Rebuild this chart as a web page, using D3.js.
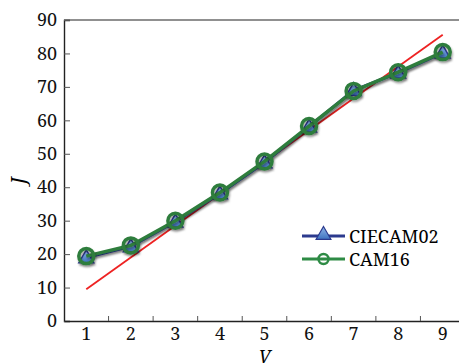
<!DOCTYPE html>
<html>
<head>
<meta charset="utf-8">
<script src="https://cdn.jsdelivr.net/npm/d3@7"></script>
<style>
  body { margin: 0; background: #fff; }
</style>
</head>
<body>
<div id="chart"></div>
<script>
// data
const categories = [1, 2, 3, 4, 5, 6, 7, 8, 9];
const ciecam02 = [19.0, 22.3, 29.7, 38.1, 47.4, 58.1, 69.0, 74.2, 80.2];
const cam16 = [19.4, 22.6, 30.0, 38.4, 47.7, 58.3, 68.8, 74.4, 80.4];
const fitLine = [9.5, 85.6]; // red linear fit at V=1 and V=9
const yTicks = [0, 10, 20, 30, 40, 50, 60, 70, 80, 90];

const FONT = "'Noto Serif', 'Liberation Serif', serif";

function main() {
  const width = 459, height = 363;
  const margin = {left: 64, top: 20, bottom: 42};
  const plotRight = 465;

  const svg = d3.select("#chart").append("svg")
    .attr("width", width)
    .attr("height", height);

  const defs = svg.append("defs");
  const shadow = defs.append("filter").attr("id", "shadow")
    .attr("x", "-50%").attr("y", "-50%").attr("width", "200%").attr("height", "200%");
  shadow.append("feDropShadow")
    .attr("dx", 1).attr("dy", 2).attr("stdDeviation", 1.3)
    .attr("flood-color", "#000").attr("flood-opacity", 0.35);
  const grad = defs.append("linearGradient").attr("id", "triFill")
    .attr("x1", 0).attr("y1", 0).attr("x2", 0).attr("y2", 1);
  grad.append("stop").attr("offset", "0%").attr("stop-color", "#8fb6e8");
  grad.append("stop").attr("offset", "100%").attr("stop-color", "#3f73c0");

  const x = d3.scaleBand()
    .domain(categories)
    .range([margin.left, plotRight]);
  const y = d3.scaleLinear()
    .domain([0, 90])
    .range([height - margin.bottom, margin.top]);
  const cx = d => x(d) + x.bandwidth() / 2;

  // frame: top line
  svg.append("line")
    .attr("x1", margin.left).attr("x2", plotRight)
    .attr("y1", y(90)).attr("y2", y(90))
    .attr("stroke", "#222").attr("stroke-width", 1.2);

  // y axis
  const yAxis = svg.append("g")
    .attr("transform", `translate(${margin.left},0)`)
    .call(d3.axisLeft(y).tickValues(yTicks).tickSize(-6).tickPadding(7));
  yAxis.select(".domain").attr("stroke", "#222").attr("stroke-width", 1.4);
  yAxis.selectAll(".tick line").attr("stroke", "#555");
  yAxis.selectAll("text").attr("font-size", 18).attr("fill", "#111")
    .style("font-family", FONT);

  // x axis: ticks between categories
  const xAxis = svg.append("g")
    .attr("transform", `translate(0,${y(0)})`)
    .call(d3.axisBottom(x).tickSize(0).tickPadding(6));
  xAxis.select(".domain").attr("stroke", "#222").attr("stroke-width", 1.4);
  xAxis.selectAll("text").attr("font-size", 18).attr("fill", "#111")
    .style("font-family", FONT);
  xAxis.selectAll(".sep")
    .data(categories.slice(1))
    .join("line")
    .attr("x1", d => x(d)).attr("x2", d => x(d))
    .attr("y1", 0).attr("y2", -5)
    .attr("stroke", "#555");

  // axis titles
  svg.append("text")
    .attr("transform", `translate(25,${y(42)}) rotate(-90)`)
    .attr("text-anchor", "middle")
    .attr("font-size", 19).attr("font-style", "italic")
    .style("font-family", FONT)
    .text("J");
  svg.append("text")
    .attr("x", (margin.left + plotRight) / 2)
    .attr("y", 363)
    .attr("text-anchor", "middle")
    .attr("font-size", 18).attr("font-style", "italic")
    .style("font-family", FONT)
    .text("V");

  const line = d3.line().x((d, i) => cx(categories[i])).y(d => y(d));

  // red fit line
  svg.append("line")
    .attr("x1", cx(categories[0])).attr("y1", y(fitLine[0]))
    .attr("x2", cx(categories[categories.length - 1])).attr("y2", y(fitLine[1]))
    .attr("stroke", "#ee2222").attr("stroke-width", 1.8);

  const tri = d3.symbol().type(d3.symbolTriangle).size(95);

  // CIECAM02 series
  svg.append("path").datum(ciecam02)
    .attr("d", line).attr("fill", "none")
    .attr("stroke", "#2c3a8e").attr("stroke-width", 3)
    .attr("filter", "url(#shadow)");
  svg.append("g").selectAll("path")
    .data(ciecam02)
    .join("path")
    .attr("d", tri)
    .attr("transform", (d, i) => `translate(${cx(categories[i])},${y(d) + 1})`)
    .attr("fill", "url(#triFill)")
    .attr("stroke", "#2c3a8e").attr("stroke-width", 1.5)
    .attr("filter", "url(#shadow)");

  // CAM16 series
  svg.append("path").datum(cam16)
    .attr("d", line).attr("fill", "none")
    .attr("stroke", "#2e7d3c").attr("stroke-width", 3.5)
    .attr("filter", "url(#shadow)");
  svg.append("g").selectAll("circle")
    .data(cam16)
    .join("circle")
    .attr("cx", (d, i) => cx(categories[i]))
    .attr("cy", d => y(d))
    .attr("r", 7.5)
    .attr("fill", "none")
    .attr("stroke", "#2e7d3c").attr("stroke-width", 3.5)
    .attr("filter", "url(#shadow)");

  // legend
  const legend = svg.append("g").attr("transform", "translate(302,236)");
  legend.append("line").attr("x1", 0).attr("x2", 43).attr("y1", 0).attr("y2", 0)
    .attr("stroke", "#2c3a8e").attr("stroke-width", 3);
  legend.append("path").attr("d", tri).attr("transform", "translate(21.5,-1)")
    .attr("fill", "url(#triFill)").attr("stroke", "#2c3a8e").attr("stroke-width", 1.2);
  legend.append("text").attr("x", 47).attr("y", 6.5).attr("font-size", 18)
    .style("font-family", FONT).text("CIECAM02");
  legend.append("line").attr("x1", 0).attr("x2", 43).attr("y1", 23).attr("y2", 23)
    .attr("stroke", "#2e8b45").attr("stroke-width", 3);
  legend.append("circle").attr("cx", 21.5).attr("cy", 23).attr("r", 5)
    .attr("fill", "none").attr("stroke", "#2e8b45").attr("stroke-width", 2.5);
  legend.append("text").attr("x", 47).attr("y", 29.5).attr("font-size", 18)
    .style("font-family", FONT).text("CAM16");
}
main();
</script>
</body>
</html>
